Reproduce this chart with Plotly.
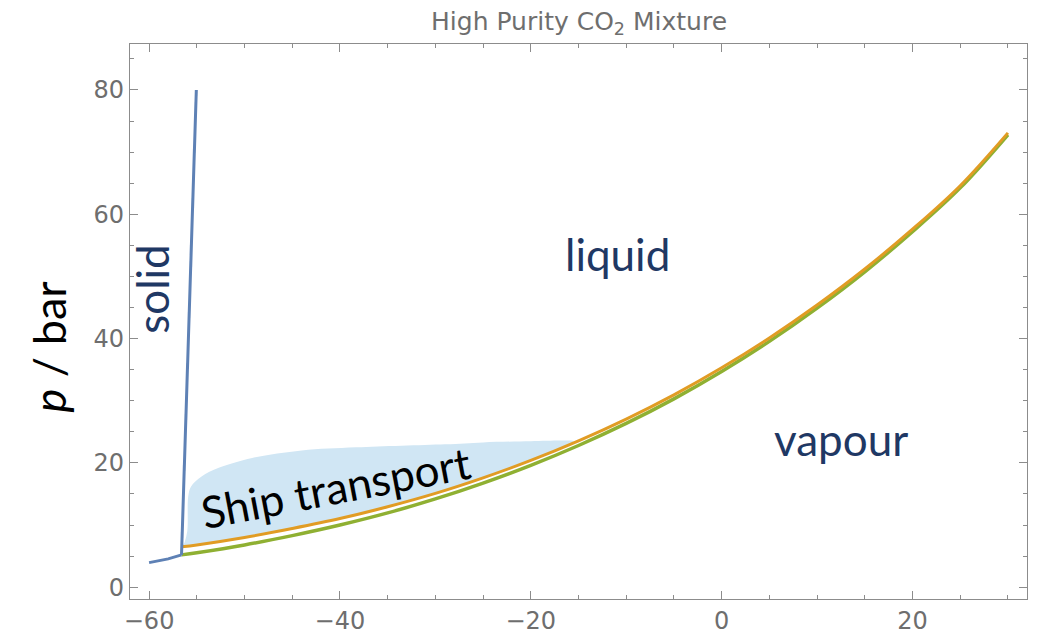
import plotly.graph_objects as go

# temperatures in degC, pressures in bar
sub_t = [-60.0, -58.0, -56.6]
sub_p = [3.95, 4.55, 5.2]

melt_t = [-56.6, -55.05]
melt_p = [5.2, 80.0]

sat_t = [-56.6, -55, -50, -45, -40, -35, -30, -25, -20, -15,
         -10, -5, 0, 5, 10, 15, 20, 25, 30]
dew_p = [5.2, 5.55, 6.8, 8.3, 10.0, 11.95, 14.2, 16.75, 19.6, 22.8,
         26.35, 30.3, 34.7, 39.55, 44.9, 50.75, 57.2, 64.25, 72.8]
bubble_p = [6.5, 6.8, 8.0, 9.45, 11.05, 12.95, 15.1, 17.6, 20.4, 23.55,
            27.05, 30.95, 35.3, 40.1, 45.4, 51.2, 57.6, 64.6, 73.1]

# upper edge of the ship transport window
ship_t = [-56.3, -56.0, -55.9, -55.6, -54.5, -52.7, -49.2, -44.0, -38.3,
          -29.0, -25.0, -20.0, -16.5, -15.5]
ship_p = [7.1, 9.0, 14.6, 16.2, 17.8, 19.2, 20.8, 22.0, 22.5,
          23.0, 23.3, 23.5, 23.6, 23.5]

BLUE = '#5e81b5'
ORANGE = '#e19c24'
GREEN = '#8fb032'
NAVY = '#1f3864'

# close the window along the bubble line
low = [(t, p) for t, p in zip(sat_t, bubble_p) if t < -15.5]
poly_t = ship_t + [t for t, p in reversed(low)]
poly_p = ship_p + [p for t, p in reversed(low)]

fig = go.Figure()
fig.add_trace(go.Scatter(x=poly_t, y=poly_p, fill='toself', mode='none',
                         fillcolor='#d0e6f4', line_shape='spline'))
fig.add_trace(go.Scatter(x=sat_t, y=dew_p, mode='lines',
                         line=dict(color=GREEN, width=3.5, shape='spline')))
fig.add_trace(go.Scatter(x=sat_t, y=bubble_p, mode='lines',
                         line=dict(color=ORANGE, width=3, shape='spline')))
fig.add_trace(go.Scatter(x=sub_t, y=sub_p, mode='lines',
                         line=dict(color=BLUE, width=3)))
fig.add_trace(go.Scatter(x=melt_t, y=melt_p, mode='lines',
                         line=dict(color=BLUE, width=3)))

lab_font = dict(family='Lato', size=44, color=NAVY)
fig.add_annotation(x=-40.5, y=16.2, text='Ship transport', showarrow=False,
                   textangle=-10.8, font=dict(family='Lato', size=44, color='black'))
fig.add_annotation(x=-10.9, y=53.6, text='liquid', showarrow=False, font=lab_font)
fig.add_annotation(x=12.5, y=23.8, text='vapour', showarrow=False, font=lab_font)
fig.add_annotation(x=-59.7, y=48.0, text='solid', showarrow=False, textangle=-90,
                   font=lab_font)
fig.add_annotation(x=0, xref='paper', y=0.455, yref='paper', xshift=-81,
                   xanchor='center', yanchor='middle',
                   text='<i>p</i> / bar', showarrow=False, textangle=-90,
                   font=dict(family='Lato', size=45, color='black'))

axis = dict(showgrid=False, zeroline=False, showline=True, linecolor='#8c8c8c',
            linewidth=1.3, mirror='ticks', ticks='inside', ticklen=8,
            tickcolor='#8c8c8c', tickwidth=1.2, automargin=False,
            tickfont=dict(family='DejaVu Sans', size=24, color='#6e6e6e'),
            minor=dict(dtick=5, ticks='inside', ticklen=4, tickcolor='#8c8c8c',
                       tickwidth=1.2))

fig.update_layout(
    width=1043, height=638, template='simple_white',
    plot_bgcolor='white', paper_bgcolor='white', showlegend=False,
    margin=dict(l=122, r=24, t=36, b=47),
    title=dict(text='High Purity CO<sub>2</sub> Mixture', x=0.5475, y=0.979,
               xanchor='center', yanchor='middle',
               font=dict(family='DejaVu Sans', size=25, color='#6e6e6e')),
)
fig.update_xaxes(axis, range=[-62, 32], tickvals=[-60, -40, -20, 0, 20],
                 ticktext=['\u221260', '\u221240', '\u221220', '0', '20'])
fig.update_yaxes(axis, range=[-1.9, 87.4], tickvals=[0, 20, 40, 60, 80])

fig.write_html("out.html")
